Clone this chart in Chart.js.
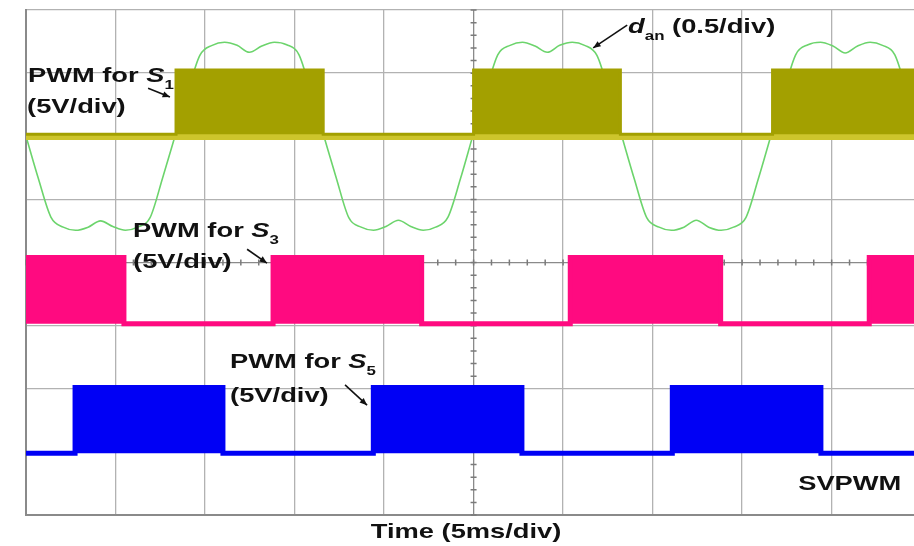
<!DOCTYPE html>
<html>
<head>
<meta charset="utf-8">
<title>SVPWM gate signals</title>
<script src="https://cdn.jsdelivr.net/npm/chart.js@4.4.1/dist/chart.umd.min.js"></script>
<style>
  html, body { margin: 0; padding: 0; background: #fff; }
  canvas { display: block; }
</style>
</head>
<body>
<canvas id="scope" width="914" height="546"></canvas>
<script>
// time axis in ms (5 ms/div), vertical axis in scope divisions (-4 .. 4)

// modulating wave d_an, read every ~0.69 ms off the trace
const sweepTime = [
  0, 0.69, 1.39, 2.08, 2.77, 3.47, 4.16, 4.85, 5.55, 6.24, 6.93, 7.63,
  8.32, 9.01, 9.71, 10.40, 11.09, 11.79, 12.48, 13.17, 13.87, 14.56, 15.25, 15.95,
  16.64, 17.33, 18.03, 18.72, 19.41, 20.11, 20.80, 21.49, 22.19, 22.88, 23.57, 24.27,
  24.96, 25.65, 26.35, 27.04, 27.73, 28.43, 29.12, 29.81, 30.51, 31.20, 31.89, 32.59,
  33.28, 33.97, 34.67, 35.36, 36.05, 36.75, 37.44, 38.13, 38.83, 39.52, 40.21, 40.91,
  41.60, 42.29, 42.99, 43.68, 44.37, 45.07, 45.76, 46.45, 47.15, 47.84, 48.53, 49.23,
  49.92
];
const dAn = [
  2.00, 1.33, 0.72, 0.56, 0.51, 0.56, 0.66, 0.57, 0.51, 0.56, 0.71, 1.34,
  2.00, 2.67, 3.28, 3.44, 3.49, 3.44, 3.33, 3.43, 3.49, 3.45, 3.29, 2.66,
  2.00, 1.34, 0.71, 0.56, 0.51, 0.57, 0.67, 0.57, 0.51, 0.56, 0.72, 1.33,
  2.01, 2.67, 3.29, 3.44, 3.49, 3.43, 3.33, 3.44, 3.49, 3.44, 3.28, 2.67,
  2.00, 1.33, 0.71, 0.56, 0.51, 0.56, 0.67, 0.56, 0.51, 0.56, 0.71, 1.33,
  2.00, 2.66, 3.29, 3.45, 3.49, 3.43, 3.32, 3.43, 3.49, 3.44, 3.29, 2.67,
  2.00
];

// PWM envelopes: switching instants (ms) and levels (div)
const s1Time  = [0, 8.38, 16.60, 25.00, 33.20, 41.70, 49.60];
const s1Level = [2.03, 3.05, 2.03, 3.05, 2.03, 3.05, 3.05];
const s1Ground = 2.03;

const s3Time  = [0, 5.47, 13.80, 22.10, 30.40, 38.80, 47.10, 49.60];
const s3Level = [0.08, -0.97, 0.08, -0.97, 0.08, -0.97, 0.08, 0.08];
const s3Ground = -0.97;

const s5Time  = [0, 2.74, 11.00, 19.40, 27.70, 36.10, 44.40, 49.60];
const s5Level = [-3.02, -1.98, -3.02, -1.98, -3.02, -1.98, -3.02, -3.02];
const s5Ground = -3.02;

const timeSpan = [0, 49.6];

// text labels (positions in ms / div)
const notes = [
  { x: 0.11, y: 2.86, parts: [{ t: 'PWM for ' }, { t: 'S', it: true }, { t: '1', sub: true }] },
  { x: 0.06, y: 2.37, parts: [{ t: '(5V/div)' }] },
  { x: 5.98, y: 0.40, parts: [{ t: 'PWM for ' }, { t: 'S', it: true }, { t: '3', sub: true }] },
  { x: 5.98, y: -0.09, parts: [{ t: '(5V/div)' }] },
  { x: 11.40, y: -1.67, parts: [{ t: 'PWM for ' }, { t: 'S', it: true }, { t: '5', sub: true }] },
  { x: 11.40, y: -2.21, parts: [{ t: '(5V/div)' }] },
  { x: 33.63, y: 3.64, parts: [{ t: 'd', it: true }, { t: 'an', sub: true }, { t: ' (0.5/div)' }] },
  { x: 43.13, y: -3.60, parts: [{ t: 'SVPWM' }] },
  { x: 24.58, y: -4.36, parts: [{ t: 'Time (5ms/div)' }], center: true }
];

const arrows = [
  { from: [6.82, 2.76], to: [8.04, 2.62] },
  { from: [12.35, 0.21], to: [13.46, -0.01] },
  { from: [17.82, -1.94], to: [19.05, -2.26] },
  { from: [33.58, 3.76], to: [31.68, 3.40] }
];

function pairs(xs, ys) {
  return xs.map((v, i) => ({ x: v, y: ys[i] }));
}

const STRETCH = 1.3;

function noteFont(p) {
  return (p.it ? 'italic ' : '') + 'bold ' + (p.sub ? 13 : 21) + 'px "Liberation Sans", Arial, sans-serif';
}

const centerTicks = {
  id: 'centerTicks',
  beforeDatasetsDraw(chart) {
    const { ctx, scales: { x, y } } = chart;
    const xc = x.getPixelForValue(25);
    const yc = y.getPixelForValue(0);
    ctx.save();
    ctx.strokeStyle = '#7a7a7a';
    ctx.lineWidth = 1.5;
    ctx.beginPath();
    for (let v = -4; v <= 4.001; v += 0.2) {
      const py = y.getPixelForValue(v);
      ctx.moveTo(xc - 3, py);
      ctx.lineTo(xc + 3, py);
    }
    for (let t = 0; t <= timeSpan[1]; t += 1) {
      const px = x.getPixelForValue(t);
      ctx.moveTo(px, yc - 3);
      ctx.lineTo(px, yc + 3);
    }
    ctx.stroke();
    ctx.restore();
  }
};

const annotate = {
  id: 'annotate',
  afterDatasetsDraw(chart) {
    const { ctx, scales: { x, y } } = chart;
    ctx.save();
    ctx.fillStyle = '#111';
    ctx.strokeStyle = '#111';
    ctx.textBaseline = 'alphabetic';

    notes.forEach(n => {
      let w = 0;
      n.parts.forEach(p => { ctx.font = noteFont(p); w += ctx.measureText(p.t).width; });
      ctx.save();
      ctx.translate(x.getPixelForValue(n.x), y.getPixelForValue(n.y));
      ctx.scale(STRETCH, 1);
      let cx = n.center ? -w / 2 : 0;
      n.parts.forEach(p => {
        ctx.font = noteFont(p);
        ctx.fillText(p.t, cx, p.sub ? 7 : 0);
        cx += ctx.measureText(p.t).width;
      });
      ctx.restore();
    });

    arrows.forEach(a => {
      const x1 = x.getPixelForValue(a.from[0]), y1 = y.getPixelForValue(a.from[1]);
      const x2 = x.getPixelForValue(a.to[0]), y2 = y.getPixelForValue(a.to[1]);
      const ang = Math.atan2(y2 - y1, x2 - x1);
      ctx.lineWidth = 1.6;
      ctx.beginPath();
      ctx.moveTo(x1, y1);
      ctx.lineTo(x2, y2);
      ctx.stroke();
      ctx.beginPath();
      ctx.moveTo(x2, y2);
      ctx.lineTo(x2 - 8 * Math.cos(ang - 0.4), y2 - 8 * Math.sin(ang - 0.4));
      ctx.lineTo(x2 - 8 * Math.cos(ang + 0.4), y2 - 8 * Math.sin(ang + 0.4));
      ctx.closePath();
      ctx.fill();
    });
    ctx.restore();
  }
};

const whiteBg = {
  id: 'whiteBg',
  beforeDraw(chart) {
    const ctx = chart.ctx;
    ctx.save();
    ctx.fillStyle = '#fff';
    ctx.fillRect(0, 0, chart.width, chart.height);
    ctx.restore();
  }
};

new Chart(document.getElementById('scope'), {
  type: 'line',
  data: {
    datasets: [
      {
        label: 'PWM for S1',
        data: pairs(s1Time, s1Level),
        stepped: 'before',
        borderColor: '#a3a000',
        backgroundColor: '#a3a000',
        borderWidth: 3,
        fill: { value: s1Ground },
        order: 0
      },
      {
        label: 'S1 ground',
        data: pairs(timeSpan, [s1Ground - 0.04, s1Ground - 0.04]),
        borderColor: '#cdc52c',
        borderWidth: 6,
        fill: false,
        order: 1
      },
      {
        label: 'd_an',
        data: pairs(sweepTime, dAn),
        borderColor: '#6cd46c',
        borderWidth: 1.6,
        cubicInterpolationMode: 'monotone',
        fill: false,
        order: 2
      },
      {
        label: 'PWM for S3',
        data: pairs(s3Time, s3Level),
        stepped: 'before',
        borderColor: '#ff0a80',
        backgroundColor: '#ff0a80',
        borderWidth: 5,
        fill: { value: s3Ground },
        order: 3
      },
      {
        label: 'PWM for S5',
        data: pairs(s5Time, s5Level),
        stepped: 'before',
        borderColor: '#0000f5',
        backgroundColor: '#0000f5',
        borderWidth: 5,
        fill: { value: s5Ground },
        order: 4
      }
    ]
  },
  options: {
    responsive: false,
    animation: false,
    layout: { padding: { left: 26, top: 10, right: 0, bottom: 31 } },
    elements: {
      point: { radius: 0 },
      line: { borderCapStyle: 'butt', borderJoinStyle: 'miter', tension: 0 }
    },
    plugins: {
      legend: { display: false },
      tooltip: { enabled: false }
    },
    scales: {
      x: {
        type: 'linear',
        min: timeSpan[0],
        max: timeSpan[1],
        ticks: { display: false, stepSize: 5, includeBounds: false },
        grid: {
          color: c => (c.tick && c.tick.value === 25) ? '#8a8a8a' : '#b2b2b2',
          lineWidth: 1.3,
          drawTicks: false
        },
        border: { display: true, color: '#8a8a8a', width: 2 },
        afterFit: s => { s.height = 0; }
      },
      y: {
        type: 'linear',
        min: -4,
        max: 4,
        ticks: { display: false, stepSize: 1 },
        grid: {
          color: c => (c.tick && c.tick.value === 0) ? '#8a8a8a' : '#b2b2b2',
          lineWidth: 1.3,
          drawTicks: false
        },
        border: { display: true, color: '#8a8a8a', width: 2 },
        afterFit: s => { s.width = 0; }
      }
    }
  },
  plugins: [whiteBg, centerTicks, annotate]
});
</script>
</body>
</html>
